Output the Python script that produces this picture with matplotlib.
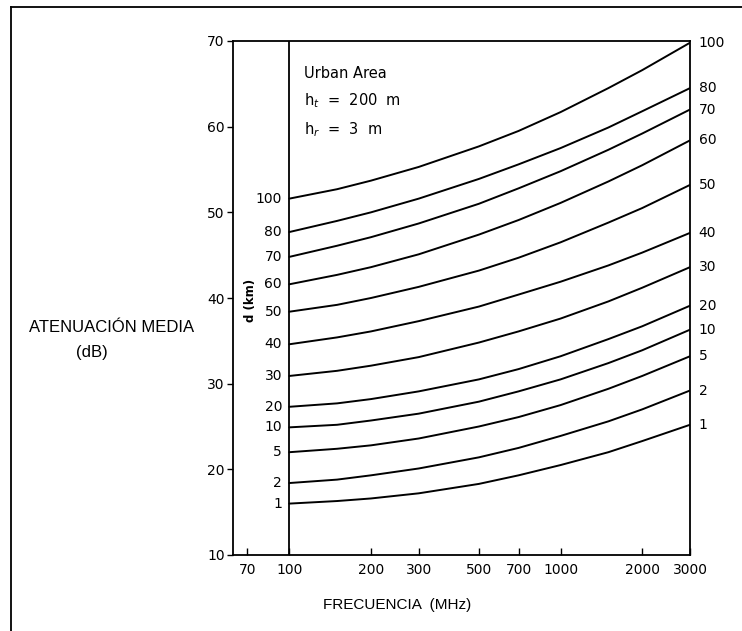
import matplotlib
matplotlib.use("Agg")
import matplotlib.pyplot as plt
from matplotlib.lines import Line2D

plt.rcParams['font.family'] = ['DejaVu Sans']

# Frequencies (MHz) at which the curves were read
freqs = [100, 150, 200, 300, 500, 700, 1000, 1500, 2000, 3000]

# Distance labels (km)
distances = ["1", "2", "5", "10", "20", "30", "40", "50", "60", "70", "80", "100"]

# Median attenuation (dB) for each distance
att_1 = [16.0, 16.3, 16.6, 17.2, 18.3, 19.3, 20.5, 22.0, 23.3, 25.2]
att_2 = [18.4, 18.8, 19.3, 20.1, 21.4, 22.5, 23.9, 25.6, 27.0, 29.2]
att_5 = [22.0, 22.4, 22.8, 23.6, 25.0, 26.1, 27.5, 29.4, 30.9, 33.2]
att_10 = [24.9, 25.2, 25.7, 26.5, 27.9, 29.1, 30.5, 32.4, 33.9, 36.3]
att_20 = [27.3, 27.7, 28.2, 29.1, 30.5, 31.7, 33.2, 35.2, 36.7, 39.1]
att_30 = [30.9, 31.5, 32.1, 33.1, 34.8, 36.1, 37.6, 39.6, 41.2, 43.6]
att_40 = [34.6, 35.4, 36.1, 37.3, 39.0, 40.4, 41.9, 43.8, 45.3, 47.6]
att_50 = [38.4, 39.2, 40.0, 41.3, 43.2, 44.7, 46.5, 48.8, 50.5, 53.2]
att_60 = [41.6, 42.7, 43.6, 45.1, 47.4, 49.1, 51.1, 53.6, 55.5, 58.4]
att_70 = [44.8, 46.1, 47.1, 48.7, 51.0, 52.8, 54.8, 57.3, 59.2, 62.0]
att_80 = [47.7, 49.0, 50.0, 51.6, 53.9, 55.6, 57.5, 59.9, 61.8, 64.5]
att_100 = [51.6, 52.7, 53.7, 55.3, 57.7, 59.5, 61.7, 64.5, 66.6, 69.8]

curves = [att_1, att_2, att_5, att_10, att_20, att_30, att_40,
          att_50, att_60, att_70, att_80, att_100]

xticks = [70, 100, 200, 300, 500, 700, 1000, 2000, 3000]
xticklabels = ["70", "100", "200", "300", "500", "700", "1000", "2000", "3000"]
yticks = [10, 20, 30, 40, 50, 60, 70]

W, H = 742, 631
fig = plt.figure(figsize=(W / 100, H / 100), dpi=100)
fig.patch.set_facecolor("white")

# outer frame (left and top edges)
fig.add_artist(Line2D([11 / W, 11 / W], [0, 1 - 7 / H], color="black", lw=1.3,
                      transform=fig.transFigure))
fig.add_artist(Line2D([11 / W, 1], [1 - 7 / H, 1 - 7 / H], color="black", lw=1.3,
                      transform=fig.transFigure))

left, right, top, bottom = 233, 690, 41, 555
ax = fig.add_axes([left / W, 1 - bottom / H, (right - left) / W, (bottom - top) / H])
ax.set_xscale("log")
ax.set_xlim(62, 3000)
ax.set_ylim(10, 70)

for sp in ax.spines.values():
    sp.set_linewidth(1.3)

ax.set_xticks(xticks)
ax.set_xticklabels(xticklabels)
ax.xaxis.set_minor_locator(matplotlib.ticker.NullLocator())
ax.set_yticks(yticks)
ax.tick_params(axis="x", direction="in", length=5, width=1, labelsize=10, pad=6)
ax.tick_params(axis="y", direction="out", length=4, width=1, labelsize=10, pad=2)

# vertical reference line at 100 MHz
ax.axvline(100, color="black", lw=1.3)

for lab, vals in zip(distances, curves):
    ax.plot(freqs, vals, color="black", lw=1.4, solid_capstyle="round")
    ax.text(94, vals[0], lab, ha="right", va="center", fontsize=10)
    ax.text(3230, vals[-1], lab, ha="left", va="center", fontsize=10,
            clip_on=False)

ax.text(72.2, 39.7, "d (km)", rotation=90, ha="center", va="center", fontsize=8.5,
        fontweight="bold")

ax.text(113, 66.2, "Urban Area", fontsize=10.5, ha="left", va="center")
ax.text(113, 63.0, r"h$_t$  =  200  m", fontsize=10.5, ha="left", va="center")
ax.text(113, 59.7, r"h$_r$  =  3  m", fontsize=10.5, ha="left", va="center")

lab_font = ['Liberation Sans', 'DejaVu Sans']
fig.text(112 / W, 1 - 327 / H, "ATENUACIÓN MEDIA", ha="center", va="center",
         fontsize=12, family=lab_font)
fig.text(92 / W, 1 - 352 / H, "(dB)", ha="center", va="center", fontsize=12,
         family=lab_font)
fig.text(397 / W, 1 - 605 / H, "FRECUENCIA  (MHz)", ha="center", va="center",
         fontsize=11, family=lab_font)

fig.savefig("out.png", dpi=100, facecolor="white")
